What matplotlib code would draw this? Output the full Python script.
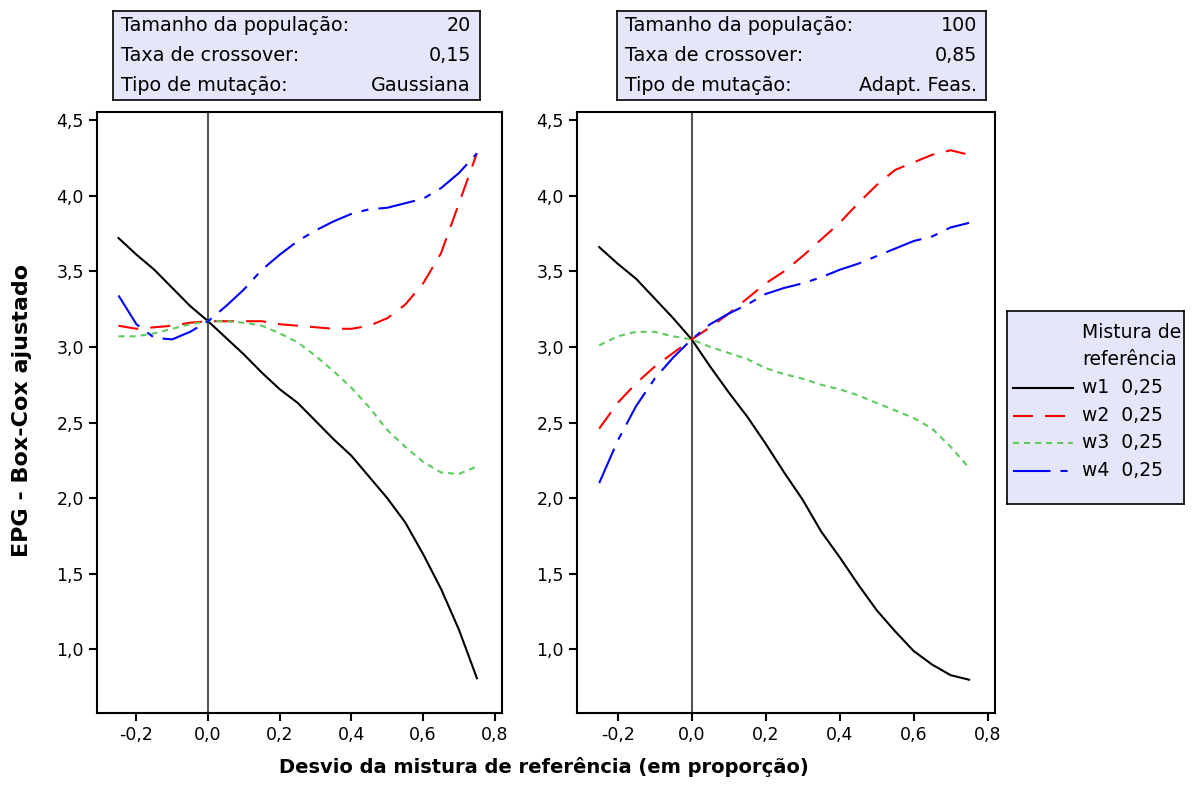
import numpy as np
import matplotlib
matplotlib.use("Agg")
import matplotlib.pyplot as plt
from matplotlib.ticker import FuncFormatter

plt.rcParams['font.family'] = ['DejaVu Sans']

# desvio da mistura de referencia
desvio = [-0.25, -0.2, -0.15, -0.1, -0.05, 0.0, 0.05, 0.1, 0.15, 0.2, 0.25,
          0.3, 0.35, 0.4, 0.45, 0.5, 0.55, 0.6, 0.65, 0.7, 0.75]

# painel esquerdo (pop 20, crossover 0,15, Gaussiana)
w1_esq = [3.72, 3.61, 3.51, 3.39, 3.27, 3.17, 3.06, 2.95, 2.83, 2.72, 2.63,
          2.51, 2.39, 2.28, 2.14, 2.00, 1.84, 1.63, 1.40, 1.13, 0.81]
w2_esq = [3.14, 3.12, 3.13, 3.14, 3.16, 3.17, 3.17, 3.17, 3.17, 3.15, 3.14,
          3.13, 3.12, 3.12, 3.14, 3.19, 3.28, 3.42, 3.62, 3.95, 4.28]
w3_esq = [3.07, 3.07, 3.09, 3.12, 3.15, 3.17, 3.17, 3.16, 3.14, 3.09, 3.03,
          2.94, 2.84, 2.73, 2.60, 2.45, 2.34, 2.24, 2.17, 2.16, 2.21]
w4_esq = [3.34, 3.15, 3.06, 3.05, 3.10, 3.17, 3.27, 3.38, 3.51, 3.61, 3.70,
          3.77, 3.83, 3.88, 3.91, 3.92, 3.95, 3.98, 4.05, 4.15, 4.28]

# painel direito (pop 100, crossover 0,85, Adapt. Feas.)
w1_dir = [3.66, 3.55, 3.45, 3.32, 3.19, 3.05, 2.87, 2.70, 2.54, 2.36, 2.17,
          1.99, 1.78, 1.61, 1.43, 1.26, 1.12, 0.99, 0.90, 0.83, 0.80]
w2_dir = [2.46, 2.63, 2.76, 2.87, 2.96, 3.05, 3.13, 3.22, 3.32, 3.42, 3.50,
          3.60, 3.71, 3.82, 3.95, 4.07, 4.17, 4.22, 4.27, 4.30, 4.27]
w3_dir = [3.01, 3.07, 3.10, 3.10, 3.07, 3.05, 3.00, 2.96, 2.92, 2.86, 2.82,
          2.79, 2.75, 2.72, 2.68, 2.63, 2.58, 2.53, 2.46, 2.34, 2.20]
w4_dir = [2.10, 2.38, 2.61, 2.79, 2.93, 3.05, 3.15, 3.22, 3.28, 3.35, 3.39,
          3.42, 3.46, 3.51, 3.55, 3.60, 3.65, 3.70, 3.73, 3.79, 3.82]

info_esq = [("Tamanho da população:", "20"), ("Taxa de crossover:", "0,15"),
            ("Tipo de mutação:", "Gaussiana")]
info_dir = [("Tamanho da população:", "100"), ("Taxa de crossover:", "0,85"),
            ("Tipo de mutação:", "Adapt. Feas.")]

legenda = ["w1  0,25", "w2  0,25", "w3  0,25", "w4  0,25"]

xticks = [-0.2, 0.0, 0.2, 0.4, 0.6, 0.8]
yticks = [1.0, 1.5, 2.0, 2.5, 3.0, 3.5, 4.0, 4.5]

LW = 1.5
estilos = [
    dict(color="black", linestyle="-"),
    dict(color="#FF0000", dashes=(9.6, 5.8)),
    dict(color="#5CCB5C", dashes=(2.9, 2.4)),
    dict(color="#0000FF", dashes=(18, 4.8, 3.4, 4.8)),
]
fundo = "#E6E6FA"

W, H = 1194, 785
fig = plt.figure(figsize=(W / 100, H / 100), dpi=100)


def px(x0, y0, x1, y1):
    return [x0 / W, 1 - y1 / H, (x1 - x0) / W, (y1 - y0) / H]


fmt = FuncFormatter(lambda v, p: ("%.1f" % v).replace(".", ","))


def painel(rect, series):
    ax = fig.add_axes(rect)
    ax.axvline(0, color="#555555", lw=1.5, zorder=1)
    for s, st in zip(series, estilos):
        ax.plot(desvio, s, lw=LW, zorder=2, **st)
    ax.set_xlim(-0.31, 0.82)
    ax.set_ylim(0.58, 4.553)
    ax.set_xticks(xticks)
    ax.set_yticks(yticks)
    ax.xaxis.set_major_formatter(fmt)
    ax.yaxis.set_major_formatter(fmt)
    ax.tick_params(direction="out", length=6, width=1.5, labelsize=12.5,
                   top=False, right=False)
    for sp in ax.spines.values():
        sp.set_linewidth(1.5)
    return ax


def caixa(rect, linhas):
    ax = fig.add_axes(rect)
    ax.set_facecolor(fundo)
    ax.set_xticks([])
    ax.set_yticks([])
    for sp in ax.spines.values():
        sp.set_linewidth(1.2)
    ys = [0.84, 0.5, 0.16]
    for (k, v), y in zip(linhas, ys):
        ax.text(0.022, y, k, ha="left", va="center", fontsize=13.8,
                transform=ax.transAxes)
        ax.text(0.975, y, v, ha="right", va="center", fontsize=13.8,
                transform=ax.transAxes)
    return ax


ax1 = painel(px(97, 112, 502, 713), [w1_esq, w2_esq, w3_esq, w4_esq])
ax2 = painel(px(577, 112, 995, 713), [w1_dir, w2_dir, w3_dir, w4_dir])

caixa(px(113, 11, 480, 100), info_esq)
caixa(px(617, 11, 986, 100), info_dir)

# legenda
axl = fig.add_axes(px(1007, 311, 1184, 504))
axl.set_facecolor(fundo)
axl.set_xlim(0, 177)
axl.set_ylim(193, 0)
axl.set_xticks([])
axl.set_yticks([])
for sp in axl.spines.values():
    sp.set_linewidth(1.2)
axl.text(75, 22, "Mistura de", ha="left", va="center", fontsize=13.5)
axl.text(75, 49, "referência", ha="left", va="center", fontsize=13.5)
for i, (lab, st) in enumerate(zip(legenda, estilos)):
    y = 77 + i * 27.5
    axl.plot([6, 66], [y, y], lw=LW, **st)
    axl.text(75, y, lab, ha="left", va="center", fontsize=13.5)

fig.text(22 / W, 1 - 410 / H, "EPG - Box-Cox ajustado", rotation=90,
         ha="center", va="center", fontsize=16, fontweight="bold")
fig.text(544 / W, 1 - 767 / H, "Desvio da mistura de referência (em proporção)",
         ha="center", va="center", fontsize=14, fontweight="bold")

fig.savefig("out.png", dpi=100)
